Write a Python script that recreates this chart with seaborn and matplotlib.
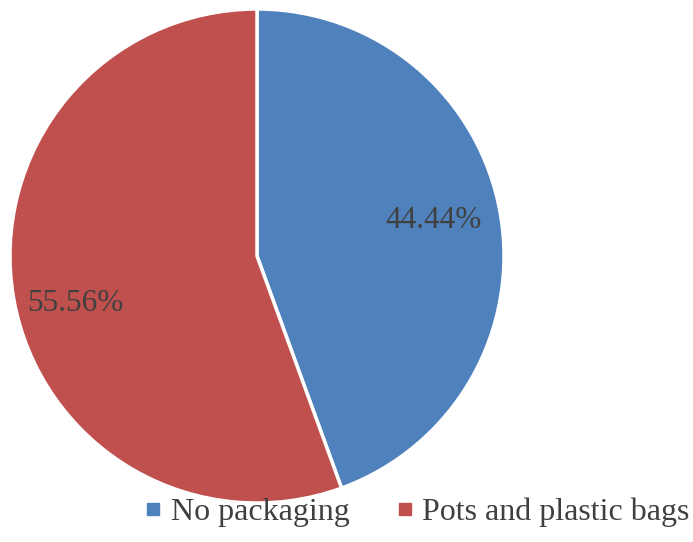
import matplotlib
matplotlib.use("Agg")
import matplotlib.pyplot as plt
from matplotlib.lines import Line2D
import numpy as np
import seaborn as sns

categories = ["No packaging", "Pots and plastic bags"]
shares = [44.44, 55.56]
colors = ["#4F81BD", "#C0504D"]

sns.set_theme(style="white")
plt.rcParams["font.family"] = ["Liberation Serif", "DejaVu Serif"]

fig = plt.figure(figsize=(6.93, 5.42), dpi=100)
W, H = 693, 542
cx, cy, r = 257, 256, 247
ax = fig.add_axes([(cx - r) / W, (H - cy - r) / H, 2 * r / W, 2 * r / H])

wedges, texts, autotexts = ax.pie(
    shares,
    colors=colors,
    startangle=90,
    counterclock=False,
    autopct=lambda p: f"{p:.2f}%",
    pctdistance=0.74,
    wedgeprops=dict(edgecolor="white", linewidth=2.5),
    textprops=dict(color="#404040", fontsize=22.5),
)

# place each percentage label along its wedge's bisector, angled slightly
label_radius = [0.73, 0.76]
label_tilt = [1.5, 4.5]
for w, t, rad, tilt in zip(wedges, autotexts, label_radius, label_tilt):
    ang = np.deg2rad((w.theta1 + w.theta2) / 2 + tilt)
    t.set_position((rad * np.cos(ang), rad * np.sin(ang)))

ax.set_xlim(-1.0, 1.0)
ax.set_ylim(-1.0, 1.0)
ax.set_aspect("equal")
ax.axis("off")

handles = [
    Line2D([], [], marker="s", linestyle="none", markersize=9,
           markerfacecolor=c, markeredgecolor=c)
    for c in colors
]
fig.legend(
    handles, categories,
    loc="lower center", bbox_to_anchor=(0.601, -0.025),
    ncol=2, frameon=False, fontsize=23,
    handletextpad=0.25, columnspacing=1.43, handlelength=0.6,
    labelcolor="#404040",
)

fig.savefig("out.png", dpi=100)
